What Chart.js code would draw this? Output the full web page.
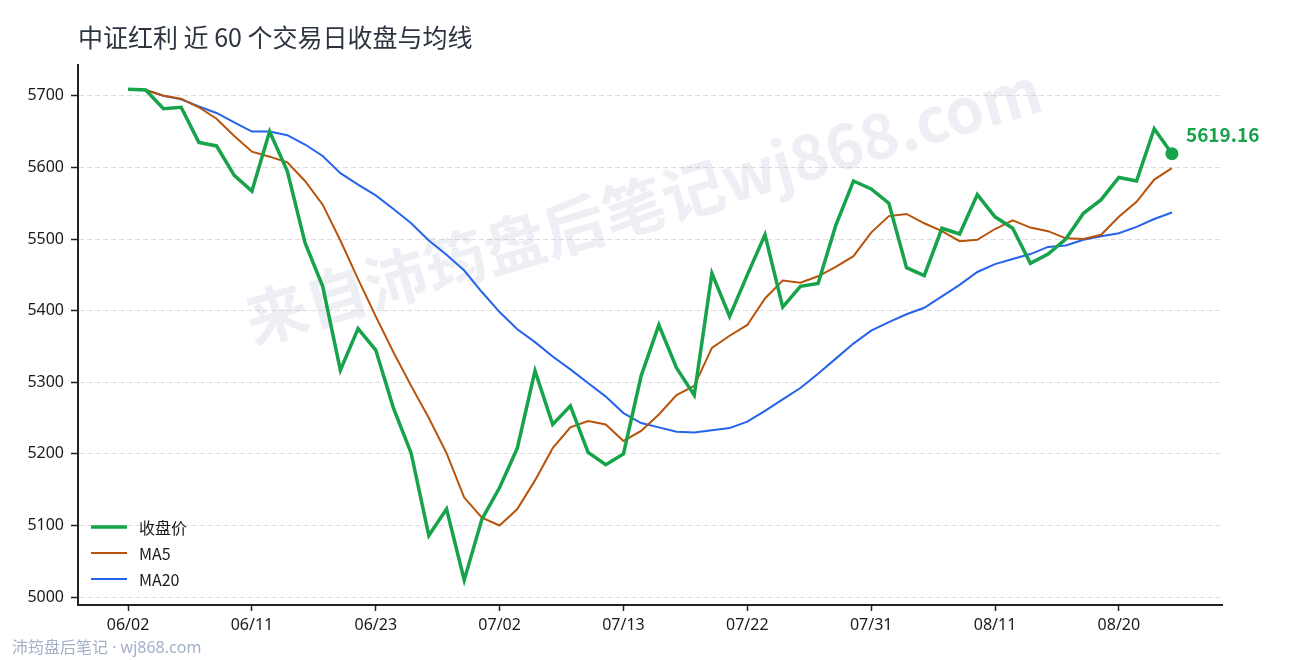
<!DOCTYPE html>
<html>
<head>
<meta charset="utf-8">
<script src="https://cdn.jsdelivr.net/npm/chart.js@4.4.1/dist/chart.umd.min.js"></script>
<style>
  html, body { margin: 0; padding: 0; background: #fff; }
  canvas { display: block; }
</style>
</head>
<body>
<canvas id="chart" width="1290" height="660"></canvas>
<script>
// ===== 数据 =====
const dates = ['06/02','06/03','06/04','06/05','06/08','06/09','06/10','06/11','06/12','06/15',
  '06/16','06/17','06/18','06/22','06/23','06/24','06/25','06/26','06/29','06/30',
  '07/01','07/02','07/03','07/06','07/07','07/08','07/09','07/10','07/13','07/14',
  '07/15','07/16','07/17','07/20','07/21','07/22','07/23','07/24','07/27','07/28',
  '07/29','07/30','07/31','08/03','08/04','08/05','08/06','08/07','08/10','08/11',
  '08/12','08/13','08/14','08/17','08/18','08/19','08/20','08/21','08/24','08/25'];
const tickIdx = [0, 7, 14, 21, 28, 35, 42, 49, 56];
const yTicks = [5000, 5100, 5200, 5300, 5400, 5500, 5600, 5700];

const closeVals = [5709, 5708, 5682, 5684, 5635, 5630, 5589, 5567, 5650, 5595,
  5495, 5434, 5317, 5375, 5345, 5264, 5201, 5086, 5123, 5024,
  5109, 5153, 5208, 5316, 5241, 5267, 5202, 5185, 5200, 5309,
  5380, 5320, 5282, 5452, 5392, 5450, 5506, 5405, 5434, 5438,
  5519, 5581, 5570, 5550, 5460, 5449, 5515, 5507, 5562, 5531,
  5515, 5466, 5479, 5500, 5536, 5555, 5586, 5581, 5654, 5619.16];
const ma5Vals = [5709, 5708, 5700, 5696, 5684, 5668, 5644, 5622, 5615, 5607,
  5581, 5548, 5498, 5444, 5392, 5342, 5295, 5250, 5201, 5139,
  5111, 5100, 5123, 5163, 5208, 5237, 5246, 5241, 5218, 5232,
  5255, 5282, 5295, 5348, 5365, 5380, 5417, 5442, 5439, 5448,
  5461, 5476, 5509, 5532, 5535, 5522, 5511, 5497, 5499, 5514,
  5526, 5516, 5511, 5501, 5500, 5506, 5531, 5552, 5583, 5599];
const ma20Vals = [5709, 5708, 5700, 5695, 5685, 5676, 5663, 5650, 5650, 5645,
  5632, 5616, 5592, 5576, 5561, 5542, 5522, 5498, 5478, 5456,
  5426, 5398, 5374, 5356, 5336, 5318, 5299, 5280, 5257, 5243,
  5237, 5231, 5230, 5233, 5236, 5245, 5260, 5276, 5292, 5312,
  5333, 5354, 5372, 5384, 5395, 5404, 5420, 5436, 5454, 5465,
  5472, 5479, 5489, 5491, 5499, 5504, 5508, 5517, 5528, 5537];

const FONT = '"Noto Sans CJK SC", "Noto Sans", sans-serif';
const LATIN = '"Noto Sans", "Noto Sans CJK SC", sans-serif';
const GREEN = '#16a34a';
const lastIdx = closeVals.length - 1;

function toPoints(arr) {
  return arr.map((v, i) => ({ x: i, y: v }));
}

// ===== 标题、水印、图例、末值标注 =====
const decor = {
  id: 'decor',
  beforeDatasetsDraw(chart) {
    const c = chart.ctx;
    c.save();
    c.translate(643, 205);
    c.rotate(-16.5 * Math.PI / 180);
    c.font = 'bold 62px ' + FONT;
    c.fillStyle = 'rgba(160, 168, 195, 0.18)';
    c.textAlign = 'center';
    c.textBaseline = 'middle';
    c.fillText('来自沛筠盘后笔记wj868.com', 0, 0);
    c.restore();
  },
  afterDraw(chart) {
    const c = chart.ctx;
    c.save();
    // 标题
    c.font = '25px ' + FONT;
    c.fillStyle = '#2d3440';
    c.textBaseline = 'middle';
    c.textAlign = 'left';
    c.fillText('中证红利 近 60 个交易日收盘与均线', 78, 37);

    // 图例
    const rows = [527, 553, 579];
    chart.data.datasets.forEach((ds, i) => {
      c.strokeStyle = ds.borderColor;
      c.lineWidth = ds.borderWidth;
      c.beginPath();
      c.moveTo(91, rows[i]);
      c.lineTo(127, rows[i]);
      c.stroke();
      c.font = '16px ' + FONT;
      c.fillStyle = '#1a1a1a';
      c.fillText(ds.label, 139, rows[i] + 1);
    });

    // 末值标注
    const pt = chart.getDatasetMeta(0).data[lastIdx];
    c.font = 'bold 19px ' + FONT;
    c.fillStyle = GREEN;
    c.fillText(closeVals[lastIdx].toFixed(2), pt.x + 14, pt.y - 19);

    // 页脚
    c.font = '16px ' + LATIN;
    c.fillStyle = '#a2b0c8';
    c.fillText('沛筠盘后笔记 · wj868.com', 12, 648);
    c.restore();
  }
};

new Chart(document.getElementById('chart'), {
  type: 'line',
  data: {
    datasets: [
      {
        label: '收盘价',
        data: toPoints(closeVals),
        borderColor: GREEN,
        backgroundColor: GREEN,
        borderWidth: 3.5,
        pointRadius: ctx => (ctx.dataIndex === lastIdx ? 6.5 : 0),
        pointBackgroundColor: GREEN,
        pointBorderWidth: 0,
        tension: 0,
        order: 0
      },
      {
        label: 'MA5',
        data: toPoints(ma5Vals),
        borderColor: '#b8530b',
        borderWidth: 2,
        pointRadius: 0,
        tension: 0,
        order: 1
      },
      {
        label: 'MA20',
        data: toPoints(ma20Vals),
        borderColor: '#2563eb',
        borderWidth: 2,
        pointRadius: 0,
        tension: 0,
        order: 2
      }
    ]
  },
  options: {
    responsive: false,
    animation: false,
    layout: { padding: { left: 0, top: 65, right: 68, bottom: 0 } },
    plugins: {
      legend: { display: false },
      tooltip: { enabled: false }
    },
    scales: {
      x: {
        type: 'linear',
        min: -2.83,
        max: 61.83,
        afterBuildTicks: scale => { scale.ticks = tickIdx.map(v => ({ value: v })); },
        afterFit: scale => { scale.height = 55; },
        ticks: {
          callback: v => dates[v],
          color: '#1a1a1a',
          font: { family: LATIN, size: 16 },
          padding: 5,
          maxRotation: 0,
          autoSkip: false
        },
        grid: { drawOnChartArea: false, tickLength: 6, tickColor: '#222', tickWidth: 1.5 },
        border: { color: '#222', width: 2 }
      },
      y: {
        min: 4989,
        max: 5743,
        afterBuildTicks: scale => { scale.ticks = yTicks.map(v => ({ value: v })); },
        afterFit: scale => { scale.width = 78; },
        ticks: {
          callback: v => String(v),
          color: '#1a1a1a',
          font: { family: LATIN, size: 16 },
          padding: 7
        },
        grid: { color: '#dedede', lineWidth: 1, tickLength: 7, tickColor: '#222', tickWidth: 1.5 },
        border: { color: '#222', width: 2, dash: [5, 3] }
      }
    }
  },
  plugins: [decor]
});
</script>
</body>
</html>
